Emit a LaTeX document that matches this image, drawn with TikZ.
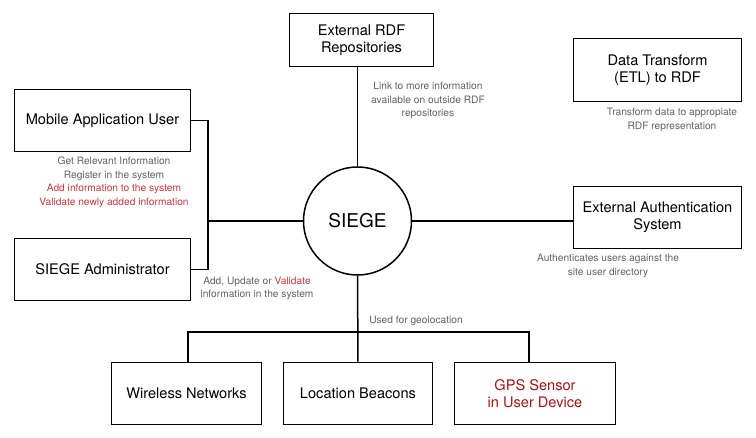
\documentclass[tikz,border=0pt]{standalone}
\usepackage{fontspec}
\setmainfont{TeX Gyre Heros}
\usepackage{tikz}
\definecolor{notegray}{HTML}{626262}
\definecolor{notered}{HTML}{C4393B}
\definecolor{darkred}{HTML}{A01515}

\begin{document}
\begin{tikzpicture}[x=1pt, y=-1pt, line width=1.5pt,
        box/.style = {draw, rectangle, align=center, inner sep=2pt,
            font=\fontsize{14.6}{17}\selectfont},
        note/.style = {align=center, text=notegray,
            font=\fontsize{10.2}{13.6}\selectfont}]
        \useasboundingbox (0,0) rectangle (756,438);

        % central system
        \node[draw, circle, minimum size=108pt, font=\fontsize{19}{22}\selectfont] (siege) at (357.5,221) {SIEGE};

        % actors and external systems
        \node[box, minimum width=176pt, minimum height=62pt] (mobile) at (102.5,120.5) {Mobile Application User};
        \node[box, minimum width=176pt, minimum height=62pt] (admin) at (102.5,269.5) {SIEGE Administrator};
        \node[box, minimum width=144pt, minimum height=53pt] (rdf) at (361.5,40) {External RDF\\Repositories};
        \node[box, minimum width=168pt, minimum height=63pt] (etl) at (657.5,70) {Data Transform\\(ETL) to RDF};
        \node[box, minimum width=168pt, minimum height=62pt] (auth) at (657.5,217.5) {External Authentication\\System};

        % geolocation sources
        \node[box, minimum width=150pt, minimum height=62pt] (wireless) at (186.5,393.5) {Wireless Networks};
        \node[box, minimum width=149pt, minimum height=62pt] (beacons) at (358,393.5) {Location Beacons};
        \node[box, minimum width=161pt, minimum height=62pt, text=darkred] (gps) at (535,393.5) {GPS Sensor\\in User Device};

        % connectors
        \coordinate (users) at (208,221);
        \coordinate (bus) at (358,332);
        \draw (mobile.east) -| (users) |- (admin.east);
        \draw (users) -- (siege.west);
        \draw (siege.north) -- (siege.north |- rdf.south);
        \draw (siege.east) -- (siege.east -| auth.west);
        \draw (siege.south) -- (beacons.north);
        \draw ([xshift=1.5pt]wireless.north) |- (bus) -| ([xshift=-6pt]gps.north);

        % notes
        \node[note] (n-mobile) at (114,182.5) {Get Relevant Information\\Register in the system\\
            \textcolor{notered}{Add information to the system}\\\textcolor{notered}{Validate newly added information}};
        \node[note] (n-admin) at (257,288.5) {Add, Update or \textcolor{notered}{Validate}\\information in the system};
        \node[note] (n-rdf) at (428,100.5) {Link to more information\\available on outside RDF\\repositories};
        \node[note] (n-etl) at (672,120) {Transform data to appropiate\\RDF representation};
        \node[note] (n-auth) at (608,266) {Authenticates users against the\\site user directory};
        \node[note] (n-geo) at (416,321) {Used for geolocation};
    \end{tikzpicture}
\end{document}
